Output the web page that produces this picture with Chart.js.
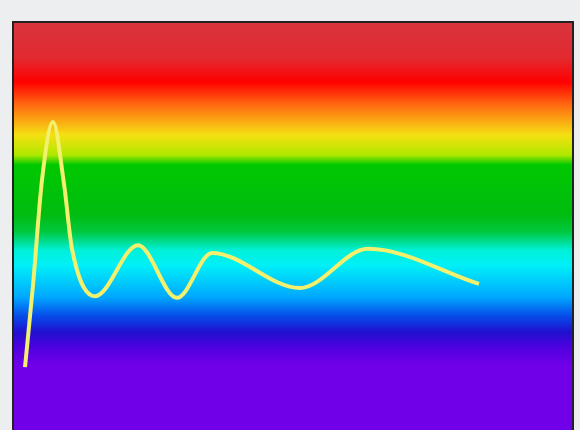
<!DOCTYPE html>
<html>
<head>
<meta charset="utf-8">
<script src="https://cdn.jsdelivr.net/npm/chart.js@4"></script>
<style>
  html, body { margin: 0; padding: 0; background: #eceef0; }
  #wrap { width: 580px; height: 430px; }
</style>
</head>
<body>
<div id="wrap"><canvas id="waveChart"></canvas></div>
<script>
// damped wave
const xValues = [12, 20, 29, 40, 51, 59, 82, 125, 164, 199, 287, 355, 466];
const yValues = [15.4, 35.5, 61.3, 75.5, 60.3, 44.4, 32.8, 45.3, 32.4, 43.4, 34.8, 44.4, 35.8];

// rainbow bands behind the plot
const bandStops = [0, 0.088, 0.147, 0.203, 0.277, 0.326, 0.35, 0.473, 0.515, 0.559, 0.596, 0.674, 0.723, 0.76, 0.799, 0.841, 1];
const bandColors = ['#d8343e', '#e22a30', '#ff0000', '#ff6a12', '#f5e012', '#b0e800', '#00c800', '#00bc10', '#00c840',
  '#00f0d8', '#00f0f8', '#00a8ff', '#0848e8', '#2010d0', '#5000e0', '#7000e8', '#7000e8'];

const points = xValues.map((x, i) => ({ x: x, y: yValues[i] }));

const rainbowBg = {
  id: 'rainbowBg',
  beforeDraw(chart) {
    const { ctx, chartArea: a } = chart;
    const g = ctx.createLinearGradient(0, a.top, 0, a.bottom);
    bandStops.forEach((s, i) => g.addColorStop(s, bandColors[i]));
    ctx.save();
    ctx.fillStyle = g;
    ctx.fillRect(a.left, a.top, a.right - a.left, a.bottom - a.top);
    ctx.restore();
  },
  afterDraw(chart) {
    const { ctx, chartArea: a } = chart;
    ctx.save();
    ctx.strokeStyle = '#222';
    ctx.lineWidth = 2;
    ctx.beginPath();
    ctx.moveTo(a.left, a.bottom + 2);
    ctx.lineTo(a.left, a.top);
    ctx.lineTo(a.right, a.top);
    ctx.lineTo(a.right, a.bottom + 2);
    ctx.stroke();
    ctx.restore();
  }
};

new Chart(document.getElementById('waveChart'), {
  type: 'line',
  data: {
    datasets: [{
      data: points,
      borderColor: '#f2f06c',
      borderWidth: 4,
      pointRadius: 0,
      cubicInterpolationMode: 'monotone',
      fill: false
    }]
  },
  options: {
    responsive: true,
    maintainAspectRatio: false,
    animation: false,
    layout: { padding: { left: 13, right: 7, top: 22, bottom: 0 } },
    plugins: { legend: { display: false }, tooltip: { enabled: false } },
    scales: {
      x: { type: 'linear', min: 0, max: 560, display: false },
      y: { min: 0, max: 100, display: false }
    }
  },
  plugins: [rainbowBg]
});
</script>
</body>
</html>
